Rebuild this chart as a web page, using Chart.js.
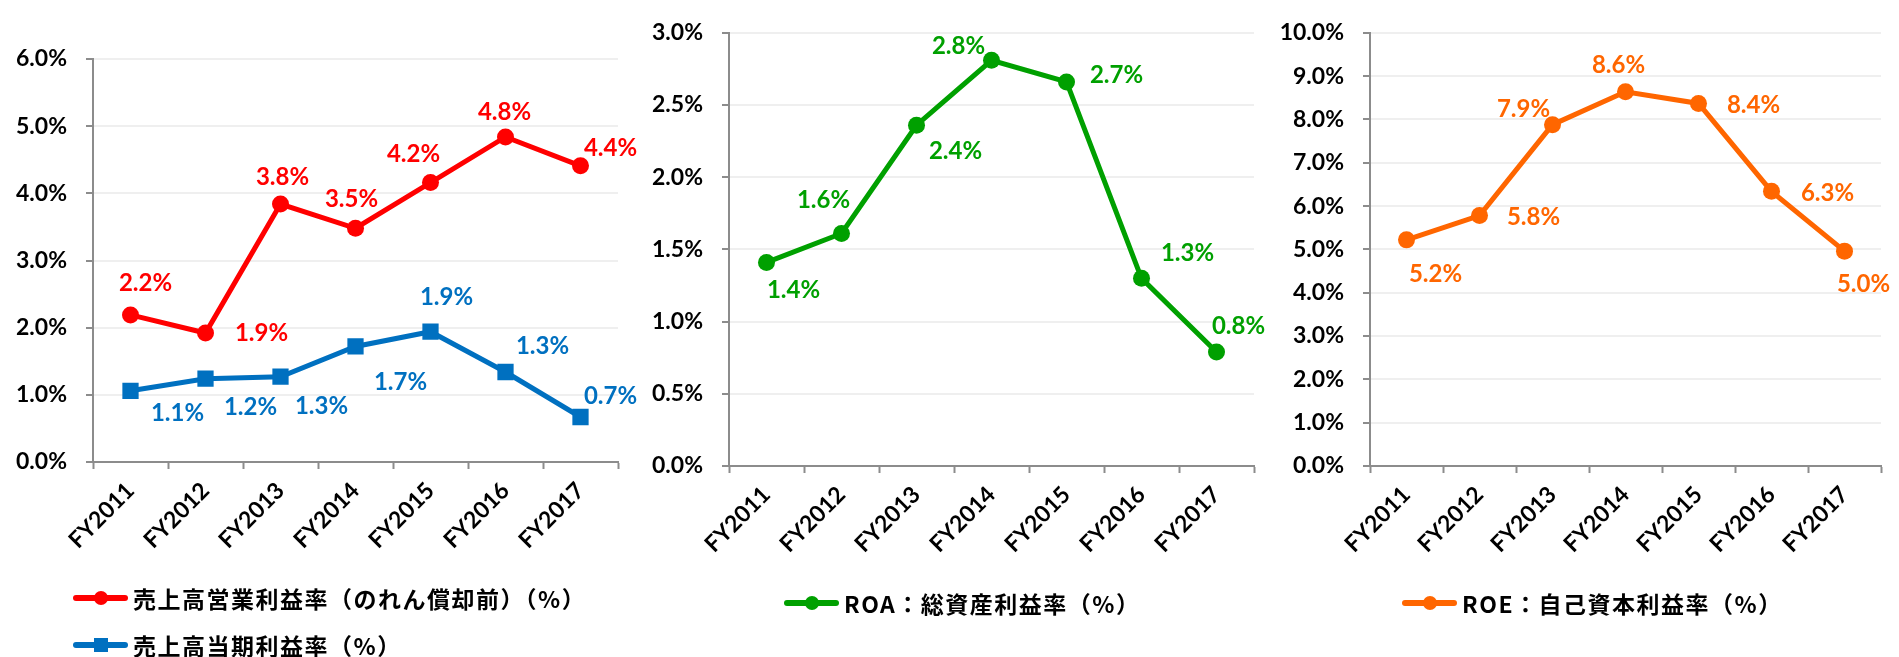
<!DOCTYPE html>
<html>
<head>
<meta charset="utf-8">
<script src="https://cdn.jsdelivr.net/npm/chart.js@4/dist/chart.umd.min.js"></script>
<style>
  body { margin: 0; background: #fff; }
  #wrap { position: relative; width: 1899px; height: 657px; overflow: hidden; }
  canvas { position: absolute; top: 0; }
  .legend { position: absolute; display: flex; align-items: center; height: 30px;
    font-family: "Noto Sans CJK JP", sans-serif; font-weight: 700; font-size: 23px;
    letter-spacing: 1.5px; color: #000; white-space: nowrap; }
  .sym { position: relative; width: 55px; height: 30px; margin-right: 5px; }
  .sym .ln { position: absolute; left: 0; right: 0; top: 12px; height: 6px; border-radius: 3px; }
  .sym .mk { position: absolute; left: 21px; top: 8px; width: 14px; height: 14px; border-radius: 50%; }
  .sym .sq { border-radius: 0; }
</style>
</head>
<body>
<div id="wrap">
  <canvas id="c1" width="640" height="657" style="left:0px"></canvas>
  <canvas id="c2" width="640" height="657" style="left:640px"></canvas>
  <canvas id="c3" width="619" height="657" style="left:1280px"></canvas>

  <div class="legend" style="left:73px; top:583px">
    <div class="sym"><div class="ln" style="background:#ff0000"></div><div class="mk" style="background:#ff0000"></div></div>
    <span>売上高営業利益率（のれん償却前）（%）</span>
  </div>
  <div class="legend" style="left:73px; top:630px">
    <div class="sym"><div class="ln" style="background:#0070c0"></div><div class="mk sq" style="background:#0070c0"></div></div>
    <span>売上高当期利益率（%）</span>
  </div>
  <div class="legend" style="left:784px; top:588px">
    <div class="sym"><div class="ln" style="background:#00a000"></div><div class="mk" style="background:#00a000"></div></div>
    <span>ROA：総資産利益率（%）</span>
  </div>
  <div class="legend" style="left:1402px; top:588px">
    <div class="sym"><div class="ln" style="background:#ff6600"></div><div class="mk" style="background:#ff6600"></div></div>
    <span>ROE：自己資本利益率（%）</span>
  </div>
</div>
<script>
// data
const years = ["FY2011", "FY2012", "FY2013", "FY2014", "FY2015", "FY2016", "FY2017"];
const opMargin = [2.19, 1.92, 3.84, 3.48, 4.16, 4.84, 4.41];
const netMargin = [1.06, 1.24, 1.27, 1.72, 1.94, 1.34, 0.67];
const roa = [1.41, 1.61, 2.36, 2.81, 2.66, 1.30, 0.79];
const roe = [5.22, 5.78, 7.88, 8.64, 8.37, 6.34, 4.96];

// label offsets from each point (px)
const opOffsets = [[15, -32], [56, 0], [2, -27], [-4, -29], [-17, -28], [-1, -25], [30, -18]];
const netOffsets = [[47, 22], [45, 29], [41, 30], [45, 36], [16, -34], [37, -26], [30, -21]];
const roaOffsets = [[27, 28], [-18, -33], [39, 26], [-33, -14], [50, -7], [46, -25], [22, -26]];
const roeOffsets = [[29, 34], [54, 2], [-29, -15], [-7, -26], [55, 2], [56, 2], [19, 33]];

const axisColor = "#8c8c8c";
const gridColor = "#efefef";
const tickFont = { family: "Lato", weight: "bold", size: 23 };

const pointLabels = {
  id: "pointLabels",
  afterDatasetsDraw(chart) {
    const ctx = chart.ctx;
    ctx.save();
    ctx.font = "bold 24px Lato";
    ctx.textAlign = "center";
    ctx.textBaseline = "middle";
    chart.data.datasets.forEach((ds, di) => {
      const meta = chart.getDatasetMeta(di);
      meta.data.forEach((pt, i) => {
        const off = ds.labelOffsets[i];
        ctx.fillStyle = ds.borderColor;
        ctx.fillText(ds.data[i].toFixed(1) + "%", pt.x + off[0], pt.y + off[1]);
      });
    });
    ctx.restore();
  }
};

function series(data, color, style, radius, offsets) {
  return {
    data: data,
    borderColor: color,
    backgroundColor: color,
    borderWidth: 5,
    pointStyle: style,
    pointRadius: radius,
    pointBorderWidth: 0,
    pointBackgroundColor: color,
    tension: 0,
    labelOffsets: offsets
  };
}

function makeChart(id, datasets, yMax, yStep, yWidth, xHeight, top, right) {
  return new Chart(document.getElementById(id), {
    type: "line",
    data: { labels: years, datasets: datasets },
    options: {
      responsive: false,
      animation: false,
      layout: { padding: { top: top, right: right, left: 0, bottom: 0 } },
      plugins: { legend: { display: false }, tooltip: { enabled: false } },
      scales: {
        x: {
          offset: true,
          grid: { offset: true, drawOnChartArea: false, tickLength: 7, tickColor: axisColor, tickWidth: 2 },
          border: { color: axisColor, width: 2 },
          ticks: { font: tickFont, color: "#000", maxRotation: 45, minRotation: 45, padding: 8 },
          afterFit(scale) { scale.height = xHeight; }
        },
        y: {
          min: 0,
          max: yMax,
          grid: { color: gridColor, lineWidth: 2, tickLength: 7, tickColor: axisColor, tickWidth: 2 },
          border: { color: axisColor, width: 2 },
          ticks: {
            stepSize: yStep,
            font: tickFont,
            color: "#000",
            padding: 19,
            callback: v => v.toFixed(1) + "%"
          },
          afterFit(scale) { scale.width = yWidth; }
        }
      }
    },
    plugins: [pointLabels]
  });
}

makeChart("c1", [
  series(opMargin, "#ff0000", "circle", 8.5, opOffsets),
  series(netMargin, "#0070c0", "rect", 11.5, netOffsets)
], 6, 1, 93, 195, 59, 22);

makeChart("c2", [
  series(roa, "#00a000", "circle", 8.5, roaOffsets)
], 3, 0.5, 89, 191, 22, 26);

makeChart("c3", [
  series(roe, "#ff6600", "circle", 8.5, roeOffsets)
], 10, 1, 90, 191, 22, 18);
</script>
</body>
</html>
